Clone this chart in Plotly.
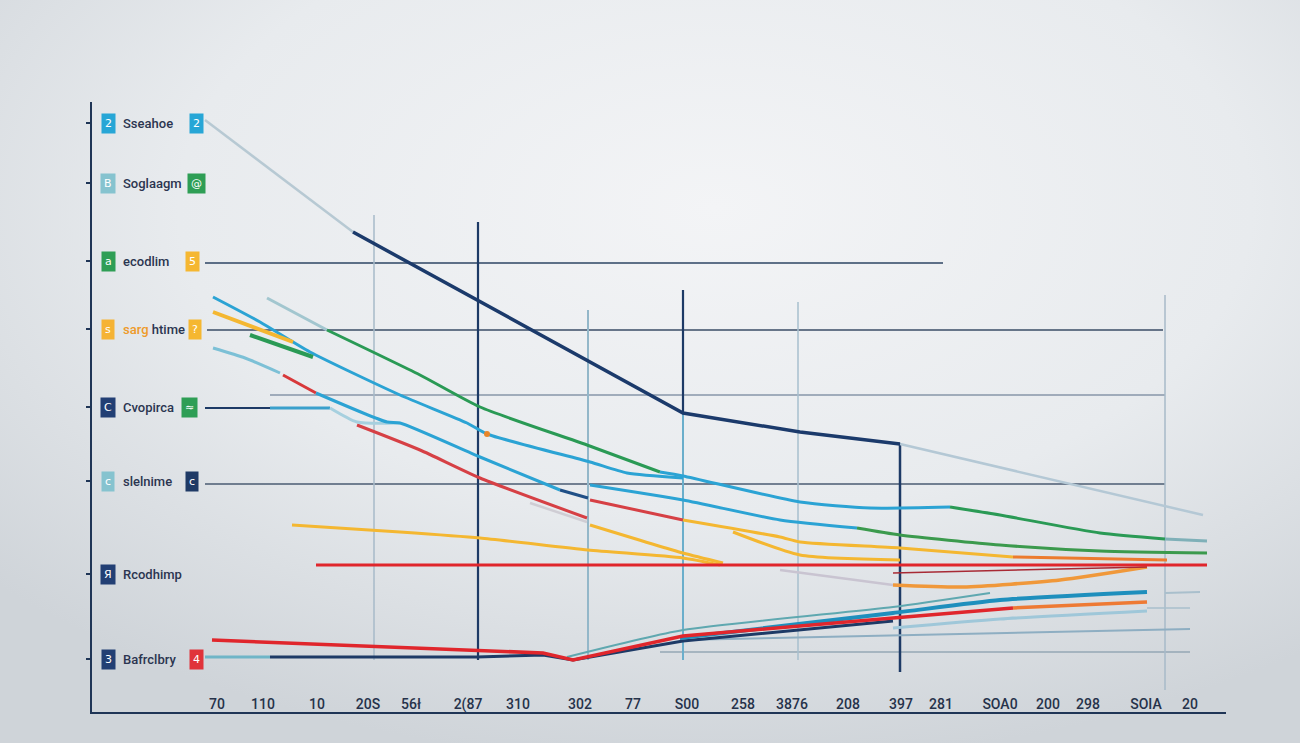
import base64
import plotly.graph_objects as go

# ---------------- data (chart units) ----------------
x_tick_pos = [12.5, 17.1, 22.5, 27.6, 31.9, 37.6, 42.6, 48.8, 54.1, 59.5,
              65.1, 70.0, 75.6, 80.9, 84.9, 90.8, 95.6, 99.6, 105.4, 109.8]
x_tick_labels = ["70", "110", "10", "20S", "56ł", "2(87", "310", "302", "77", "S00",
                 "258", "3876", "208", "397", "281", "SOA0", "200", "298", "SOIA", "20"]

row_values = [58.9, 52.9, 45.1, 38.3, 30.5, 23.1, 13.8, 5.3]
row_labels = ["Sseahoe", "Soglaagm", "ecodlim",
              "<span style='color:#ee9a2a'>sarg</span> htime",
              "Cvopirca", "slelnime", "Rcodhimp", "Bafrclbry"]
left_badge_chars = ["2", "B", "a", "s", "C", "c", "Я", "3"]
left_badge_colors = ["#27a6d6", "#86c3cf", "#2e9e55", "#f5b335",
                     "#223f74", "#86c3cf", "#223f74", "#223f74"]
right_badge_chars = ["2", "@", "5", "?", "≈", "c", None, "4"]
right_badge_x = [10.4, 10.4, 10.0, 10.3, 9.7, 10.0, None, 10.4]
right_badge_colors = ["#27a6d6", "#2e9e55", "#f5b731", "#f5b731",
                      "#2e9e55", "#1f3a66", None, "#e0333a"]

# navy trend
navy_lead_x = [11.3, 26.1]
navy_lead_y = [59.2, 48.0]
navy_x = [26.1, 38.8, 59.1, 70.8, 80.8]
navy_y = [48.0, 41.0, 29.9, 28.0, 26.8]
navy_tail_x = [80.8, 111.1]
navy_tail_y = [26.8, 19.7]

# green upper series
green_lead_x = [17.5, 23.5]
green_lead_y = [41.4, 38.2]
green_x = [23.5, 32.8, 38.8, 49.5, 56.8]
green_y = [38.2, 33.7, 30.5, 26.7, 24.0]
green_mid_x = [56.8, 59.1, 70.8, 77.8, 85.8]
green_mid_y = [24.0, 23.6, 21.0, 20.4, 20.5]
green_end_x = [85.8, 90.8, 100.8, 107.3]
green_end_y = [20.5, 19.7, 17.9, 17.3]
green_tail_x = [107.3, 111.5]
green_tail_y = [17.3, 17.1]

# blue series 1
blue1_x = [12.1, 16.8, 21.8, 30.8, 37.5, 39.5, 49.8, 53.5, 59.1]
blue1_y = [41.5, 39.0, 36.0, 31.7, 28.9, 27.8, 25.0, 23.9, 23.4]
dot_x = [39.5]
dot_y = [27.8]

# yellow short
yel_short_x = [12.1, 16.3, 20.1]
yel_short_y = [40.0, 38.4, 37.0]
grn_short_x = [15.8, 22.1]
grn_short_y = [37.7, 35.5]

# blue series 2
blue2_lead_x = [12.1, 15.3, 18.8]
blue2_lead_y = [36.4, 35.4, 33.9]
blue2_red_x = [19.1, 22.4]
blue2_red_y = [33.7, 31.9]
blue2_x = [22.4, 29.5, 30.8, 38.8, 46.8]
blue2_y = [31.9, 29.0, 28.9, 25.5, 22.2]
blue2_navy_x = [46.8, 49.6]
blue2_navy_y = [22.2, 21.4]
blue2_b_x = [49.8, 59.1, 68.8, 76.5]
blue2_b_y = [22.7, 21.2, 19.2, 18.4]
blue2_green_x = [76.5, 80.8, 90.8, 100.8, 111.5]
blue2_green_y = [18.4, 17.7, 16.7, 16.1, 15.9]

# Cvopirca row line
cv_navy_x = [11.3, 17.8]
cv_navy_y = [30.4, 30.4]
cv_blue_x = [17.8, 23.8]
cv_blue_y = [30.4, 30.4]
cv_pale_x = [23.8, 26.5, 30.8]
cv_pale_y = [30.4, 29.0, 28.9]

# red upper
red_up_x = [26.5, 32.8, 38.8, 49.5]
red_up_y = [28.7, 26.2, 23.4, 19.4]
red_shadow_x = [43.8, 49.5]
red_shadow_y = [20.9, 19.0]
red_up2_x = [49.8, 59.1]
red_up2_y = [21.2, 19.2]
red_yel_x = [59.1, 68.8, 70.8, 80.8, 92.1]
red_yel_y = [19.2, 17.5, 17.0, 16.4, 15.5]
red_org_x = [92.1, 107.5]
red_org_y = [15.5, 15.2]

# yellow mids
yel_mid_x = [49.8, 59.1, 63.1]
yel_mid_y = [18.7, 15.9, 14.9]
yel_mid2_x = [64.1, 70.8, 80.8]
yel_mid2_y = [18.0, 15.7, 15.2]
yel_long_x = [20.0, 30.8, 38.8, 49.6, 59.1, 62.8]
yel_long_y = [18.7, 18.0, 17.4, 16.2, 15.4, 14.7]

# red horizontal
red_h_x = [22.4, 111.5]
red_h_y = [14.7, 14.7]

# low gray -> orange
gray_low_x = [68.8, 80.1]
gray_low_y = [14.2, 12.7]
org_low_x = [80.1, 87.1, 96.8, 105.5]
org_low_y = [12.7, 12.5, 13.2, 14.5]
dred_x = [80.1, 105.5]
dred_y = [13.9, 14.5]

# bottom cluster
red_bot_x = [12.0, 45.1, 48.1, 59.1, 80.1, 92.1]
red_bot_y = [7.2, 5.9, 5.2, 7.6, 9.4, 10.4]
red_bot_end_x = [92.1, 105.5]
red_bot_end_y = [10.4, 11.0]
teal_start_x = [11.3, 17.8]
teal_start_y = [5.5, 5.5]
navy_bot_x = [17.8, 38.5, 45.1, 48.1, 59.1, 80.1]
navy_bot_y = [5.5, 5.5, 5.7, 5.2, 7.1, 9.1]
teal_thin_x = [47.5, 59.1, 80.1, 89.8]
teal_thin_y = [5.5, 8.2, 10.5, 11.9]
blue_thick_x = [58.8, 80.1, 90.8, 105.5]
blue_thick_y = [7.4, 9.9, 11.2, 12.0]
pale_blue_x = [80.1, 90.8, 105.5]
pale_blue_y = [8.4, 9.3, 10.1]
gray_blue_x = [58.8, 109.8]
gray_blue_y = [7.2, 8.3]
gray_thin_x = [107.3, 110.8]
gray_thin_y = [11.9, 12.0]
gray_thin2_x = [105.5, 109.8]
gray_thin2_y = [10.4, 10.4]

# reference segments (horizontal): y, x0, x1
hseg_y = [44.9, 38.2, 31.7, 22.8, 6.0]
hseg_x0 = [11.3, 11.5, 17.8, 11.3, 56.8]
hseg_x1 = [85.1, 107.1, 107.3, 107.3, 109.8]
hseg_colors = ["#2d4463", "#3a4c66", "#8796a8", "#4a5b72", "#95a7b5"]
# vertical: x, y0, y1
vseg_x = [28.2, 38.6, 49.6, 59.1, 59.1, 70.6, 80.8, 107.3]
vseg_y0 = [49.7, 49.0, 40.2, 42.2, 29.9, 41.0, 26.9, 41.7]
vseg_y1 = [5.2, 5.2, 5.2, 29.9, 5.2, 5.2, 4.0, 2.2]
vseg_colors = ["#a7bac9", "#1d3a66", "#93b7c9", "#1d3a66", "#6aaecb",
               "#a7bfce", "#1d3a66", "#a7bac9"]
vseg_widths = [1.5, 2.2, 2, 2.2, 2, 1.5, 2.5, 1.5]

# ---------------- figure ----------------
fig = go.Figure()


def line(x, y, color, width, shape="linear"):
    fig.add_trace(go.Scatter(x=x, y=y, mode="lines", hoverinfo="skip",
                             line=dict(color=color, width=width, shape=shape,
                                       smoothing=0.6)))


for y, x0, x1, c in zip(hseg_y, hseg_x0, hseg_x1, hseg_colors):
    line([x0, x1], [y, y], c, 1.4)
for x, y0, y1, c, w in zip(vseg_x, vseg_y0, vseg_y1, vseg_colors, vseg_widths):
    line([x, x], [y0, y1], c, w)

NAVY = "#1b3a6b"
GREEN = "#2a9a55"
BLUE = "#2ba3d4"
YEL = "#f4b731"
RED = "#e0262c"

line(navy_lead_x, navy_lead_y, "#b7c9d3", 2.5)
line(navy_tail_x, navy_tail_y, "#b4c8d5", 2.5)

line(yel_long_x, yel_long_y, YEL, 3, "spline")
line(yel_mid_x, yel_mid_y, YEL, 3, "spline")
line(yel_mid2_x, yel_mid2_y, YEL, 3, "spline")
line(gray_low_x, gray_low_y, "#c9c4d1", 2.5, "spline")
line(org_low_x, org_low_y, "#f0983a", 3.5, "spline")
line(dred_x, dred_y, "#a82a35", 1.5)
line(red_h_x, red_h_y, RED, 3)

line(red_shadow_x, red_shadow_y, "#cfcdd4", 2.5)
line(red_up_x, red_up_y, "#d64045", 3, "spline")
line(red_up2_x, red_up2_y, "#d64045", 3)
line(red_yel_x, red_yel_y, YEL, 3, "spline")
line(red_org_x, red_org_y, "#ec7b2e", 3)

line(cv_navy_x, cv_navy_y, "#1d3a66", 2)
line(cv_blue_x, cv_blue_y, "#3aa0cc", 3)
line(cv_pale_x, cv_pale_y, "#a6d0df", 3, "spline")

line(blue2_lead_x, blue2_lead_y, "#7cc0d6", 3, "spline")
line(blue2_red_x, blue2_red_y, "#d8383a", 3)
line(blue2_x, blue2_y, BLUE, 3, "spline")
line(blue2_navy_x, blue2_navy_y, "#1f4f86", 3)
line(blue2_b_x, blue2_b_y, BLUE, 3, "spline")
line(blue2_green_x, blue2_green_y, "#3b9a4d", 3, "spline")

line(blue1_x, blue1_y, BLUE, 3, "spline")
line(yel_short_x, yel_short_y, YEL, 4)
line(grn_short_x, grn_short_y, GREEN, 4)

line(green_lead_x, green_lead_y, "#a2c6cf", 3)
line(green_x, green_y, GREEN, 3, "spline")
line(green_mid_x, green_mid_y, BLUE, 3, "spline")
line(green_end_x, green_end_y, GREEN, 3, "spline")
line(green_tail_x, green_tail_y, "#7fb0b8", 3)

fig.add_trace(go.Scatter(x=dot_x, y=dot_y, mode="markers", hoverinfo="skip",
                         marker=dict(color="#e8862a", size=6)))

line(navy_x, navy_y, NAVY, 3.5)

# bottom cluster
line(gray_blue_x, gray_blue_y, "#8eaec2", 2)
line(gray_thin_x, gray_thin_y, "#a9bfcc", 2)
line(gray_thin2_x, gray_thin2_y, "#a9bfcc", 1.5)
line(pale_blue_x, pale_blue_y, "#9fc7d9", 3, "spline")
line(teal_thin_x, teal_thin_y, "#5fa8b0", 2, "spline")
line(teal_start_x, teal_start_y, "#6fb5c7", 3)
line(navy_bot_x, navy_bot_y, "#1d3a66", 3)
line(blue_thick_x, blue_thick_y, "#1e8fbd", 4, "spline")
line(red_bot_x, red_bot_y, RED, 3.5)
line(red_bot_end_x, red_bot_end_y, "#ee7a34", 3.5)

# row labels with badges
annotations = []
for i, yv in enumerate(row_values):
    annotations.append(dict(x=1.6, y=yv, xref="x", yref="y", text=left_badge_chars[i],
                            showarrow=False, bgcolor=left_badge_colors[i], borderpad=3,
                            font=dict(color="white", size=11, family="DejaVu Sans")))
    annotations.append(dict(x=2.9, y=yv, xref="x", yref="y", text=row_labels[i],
                            xanchor="left", showarrow=False,
                            font=dict(color="#2b3550", size=13, family="Roboto",
                                      weight=500)))
    if right_badge_chars[i] is not None:
        annotations.append(dict(x=right_badge_x[i], y=yv, xref="x", yref="y",
                                text=right_badge_chars[i], showarrow=False,
                                bgcolor=right_badge_colors[i], borderpad=3,
                                font=dict(color="white", size=11, family="DejaVu Sans")))

# soft vignette background
W, H = 1300, 743
L, R, T, B = 92, 74, 102, 31
PW, PH = W - L - R, H - T - B
svg = (
    "<svg xmlns='http://www.w3.org/2000/svg' width='1300' height='743' "
    "preserveAspectRatio='none'>"
    "<defs><radialGradient id='g' cx='55%' cy='28%' r='75%'>"
    "<stop offset='0%' stop-color='#f3f4f6'/>"
    "<stop offset='55%' stop-color='#e8ebee'/>"
    "<stop offset='100%' stop-color='#cfd4d9'/>"
    "</radialGradient></defs>"
    "<rect width='1300' height='743' fill='url(#g)'/></svg>"
)
bg_src = "data:image/svg+xml;base64," + base64.b64encode(svg.encode()).decode()

fig.update_layout(
    width=W, height=H,
    margin=dict(l=L, r=R, t=T, b=B),
    paper_bgcolor="#e6e9ec",
    plot_bgcolor="rgba(0,0,0,0)",
    showlegend=False,
    annotations=annotations,
    images=[dict(source=bg_src, xref="paper", yref="paper",
                 x=-L / PW, y=1 + T / PH, sizex=W / PW, sizey=H / PH,
                 xanchor="left", yanchor="top", sizing="stretch", layer="below")],
    xaxis=dict(range=[0, 113.4], showgrid=False, zeroline=False,
               showline=True, linecolor="#1f3556", linewidth=2,
               tickmode="array", tickvals=x_tick_pos, ticktext=x_tick_labels,
               ticks="", ticklabelposition="inside",
               tickfont=dict(color="#26324a", size=14, family="Roboto", weight=500)),
    yaxis=dict(range=[0, 61], showgrid=False, zeroline=False,
               showline=True, linecolor="#1f3556", linewidth=2,
               tickmode="array", tickvals=row_values, ticktext=[""] * len(row_values),
               ticks="outside", ticklen=4, tickcolor="#1f3556", tickwidth=2),
)

fig.write_html("out.html",
               config={"displayModeBar": False},
               post_script="document.body.style.margin='0';"
                           "document.body.style.overflow='hidden';")
